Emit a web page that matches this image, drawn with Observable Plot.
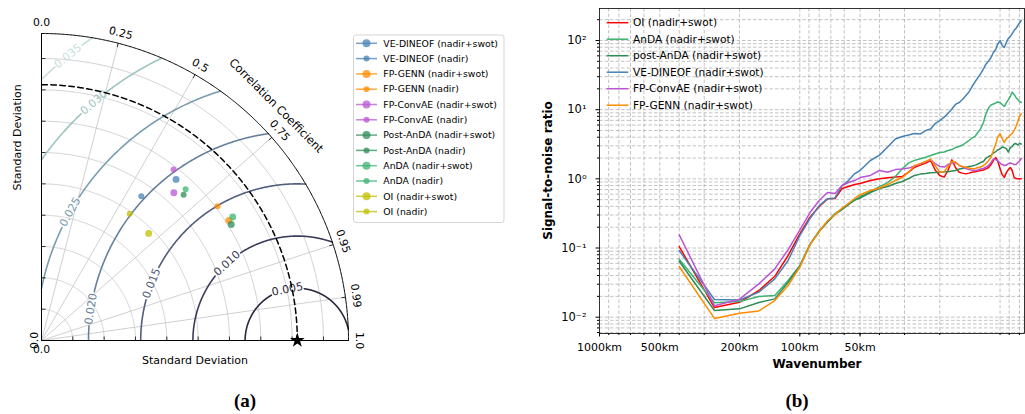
<!DOCTYPE html>
<html>
<head>
<meta charset="utf-8">
<script src="https://cdn.jsdelivr.net/npm/d3@7"></script>
<script src="https://cdn.jsdelivr.net/npm/@observablehq/plot@0.6"></script>
<style>
  html, body { margin: 0; padding: 0; background: #fff; }
  #page { position: relative; width: 1025px; height: 414px; overflow: hidden; font-family: "DejaVu Sans", sans-serif; }
  #page svg { position: absolute; top: 0; }
</style>
</head>
<body>
<div id="page"></div>
<script>
// ---------------- Taylor diagram (a) ----------------
const stdMax = 0.0294;          // outer radius of the diagram
const refStd = 0.0245;          // reference (observed) standard deviation
const stdTicks = [0.003, 0.006, 0.009, 0.012, 0.015, 0.018, 0.021, 0.024, 0.027];
const corrGridValues = [0.25, 0.5, 0.75, 0.95, 0.99];
const corrTickLabels = [0.0, 0.25, 0.5, 0.75, 0.95, 0.99, 1.0];
const rmsLevels = [0.005, 0.010, 0.015, 0.020, 0.025, 0.030, 0.035];

const methods = [
  "VE-DINEOF (nadir+swot)", "VE-DINEOF (nadir)",
  "FP-GENN (nadir+swot)", "FP-GENN (nadir)",
  "FP-ConvAE (nadir+swot)", "FP-ConvAE (nadir)",
  "Post-AnDA (nadir+swot)", "Post-AnDA (nadir)",
  "AnDA (nadir+swot)", "AnDA (nadir)",
  "OI (nadir+swot)", "OI (nadir)"
];
const methodStd  = [0.0201, 0.0168, 0.0213, 0.0212, 0.0190, 0.0207, 0.0213, 0.0195, 0.0218, 0.0200, 0.0145, 0.0148];
const methodCorr = [0.641, 0.569, 0.842, 0.795, 0.667, 0.611, 0.853, 0.698, 0.840, 0.690, 0.708, 0.571];

// ---------------- SNR spectra (b) ----------------
const wavelengthKm = [400, 266.7, 200, 160, 133.3, 114.3, 100, 88.9, 80, 72.7, 66.7, 61.5, 57.1, 53.3, 50,
  44.4, 40, 36.4, 33.3, 30.8, 28.6, 26.7, 25, 23.5, 22.2, 21.1, 20, 19.0, 18.2, 17.4, 16.7, 16, 15.4, 14.8,
  14.3, 13.8, 13.3, 12.9, 12.5, 12.1, 11.8, 11.4, 11.1, 10.8, 10.5, 10.3, 10, 9.76, 9.52, 9.30, 9.09, 8.89,
  8.70, 8.51, 8.33, 8.16, 8, 7.84];
const snrNames = ["OI (nadir+swot)", "AnDA (nadir+swot)", "post-AnDA (nadir+swot)",
  "VE-DINEOF (nadir+swot)", "FP-ConvAE (nadir+swot)", "FP-GENN (nadir+swot)"];
const snrOI = [0.105, 0.0138, 0.0164, 0.0243, 0.039, 0.078, 0.16, 0.279, 0.398, 0.514, 0.52, 0.724, 0.774, 0.827, 0.855,
  0.945, 1.0, 1.04, 1.06, 1.08, 1.25, 1.47, 1.58, 1.69, 1.84, 1.34, 1.12, 1.06, 1.32, 1.88, 1.46, 1.245, 1.21, 1.18,
  1.21, 1.245, 1.27, 1.30, 1.32, 1.34, 1.39, 1.46, 1.61, 1.84, 2.03, 1.84, 1.41, 1.15, 1.05, 1.23, 1.36, 1.46,
  1.32, 1.05, 1.01, 1.0, 1.0, 1.0];
const snrAnDA = [0.069, 0.0162, 0.0168, 0.0199, 0.0206, 0.034, 0.0558, 0.114, 0.176, 0.241, 0.315, 0.372, 0.44, 0.486, 0.555,
  0.655, 0.77, 0.88, 1.08, 1.40, 1.70, 1.85, 1.95, 2.05, 2.17, 2.28, 2.40, 2.44, 2.57, 2.65, 2.83, 2.93, 3.08, 3.35,
  3.58, 3.89, 4.16, 4.67, 5.33, 6.52, 8.5, 10.6, 11.7, 12.1, 12.5, 12.9, 12.7, 11.9, 11.1, 12.5, 14.0, 15.5,
  17.9, 16.6, 15.0, 14.0, 13.1, 12.7];
const snrPostAnDA = [0.0644, 0.0125, 0.0132, 0.0163, 0.0184, 0.032, 0.054, 0.112, 0.173, 0.237, 0.305, 0.36, 0.425, 0.494, 0.528,
  0.634, 0.724, 0.774, 0.855, 0.914, 1.01, 1.12, 1.17, 1.19, 1.22, 1.23, 1.25, 1.27, 1.27, 1.30, 1.32, 1.39, 1.41, 1.46,
  1.51, 1.53, 1.58, 1.64, 1.72, 1.78, 1.97, 2.10, 2.17, 2.36, 2.48, 2.61, 2.70, 2.88, 2.83, 2.74, 2.44, 2.83,
  2.93, 3.18, 3.24, 3.08, 3.24, 3.18];
const snrVEDINEOF = [0.092, 0.018, 0.0177, 0.023, 0.0358, 0.066, 0.151, 0.267, 0.41, 0.514, 0.53, 0.80, 0.945, 1.18, 1.32,
  1.84, 2.2, 2.88, 3.76, 4.09, 4.3, 4.52, 4.45, 4.99, 5.25, 6.3, 6.96, 7.8, 8.8, 10.2, 11.9, 12.7, 14.0, 16.0,
  18.0, 21.6, 25.5, 29.0, 33.2, 38.9, 44.9, 50.5, 56.8, 67, 74.5, 87.6, 99.8, 84.6, 79, 93.8, 107, 114,
  126, 139, 149, 164.5, 179, 194.5];
const snrConvAE = [0.155, 0.0146, 0.0182, 0.0303, 0.05, 0.095, 0.182, 0.326, 0.486, 0.634, 0.613, 0.80, 0.884, 0.945, 1.044,
  1.12, 1.32, 1.245, 1.36, 1.39, 1.43, 1.53, 1.64, 1.78, 1.87, 1.66, 1.51, 1.48, 1.61, 1.69, 1.72, 1.58, 1.48, 1.41,
  1.36, 1.34, 1.32, 1.34, 1.39, 1.41, 1.48, 1.56, 1.72, 1.93, 1.9, 1.84, 1.69, 1.61, 1.56, 1.58, 1.66, 1.69,
  1.66, 1.61, 1.61, 1.72, 1.81, 1.97];
const snrGENN = [0.054, 0.0096, 0.0114, 0.0123, 0.0174, 0.0287, 0.053, 0.112, 0.173, 0.249, 0.305, 0.376, 0.44, 0.52, 0.59,
  0.677, 0.736, 0.827, 0.945, 1.044, 1.25, 1.56, 1.66, 1.78, 1.93, 1.56, 1.25, 1.27, 1.51, 1.78, 1.75, 1.56, 1.51, 1.47,
  1.43, 1.40, 1.41, 1.46, 1.48, 1.56, 1.64, 1.84, 2.05, 2.57, 3.18, 3.95, 4.48, 3.82, 3.35, 3.82, 3.99, 4.3,
  4.52, 4.99, 5.7, 6.7, 7.95, 8.7];
const xLabelKm = [1000, 500, 200, 100, 50];
const gridKm = [900, 800, 700, 600, 500, 400, 300, 200, 100, 90, 80, 70, 60, 50, 40, 30, 20, 10, 9, 8];
const yMajor = [0.01, 0.1, 1, 10, 100];

// ---------------- styling ----------------
const methodColor = {
  "VE-DINEOF": "#4682b4", "FP-GENN": "#ff8c00", "FP-ConvAE": "#ba55d3",
  "Post-AnDA": "#2e8b57", "AnDA": "#3cb371", "OI": "#bfbf00"
};
const snrColors = ["#ff0000", "#3cb371", "#2e8b57", "#4682b4", "#ba55d3", "#ff8c00"];
const rmsColors = ["#28283c", "#3a3c5c", "#525e7e", "#66809b", "#7a9db0", "#9ec4c2", "#c6e0dc"];
const rmsLabelAngle = [101, 132.4, 158.6, 171.3, 150.5, 130.5, 128.9]; // where each contour is labelled (deg, around the reference point)
const gridGrey = "#c4c4c4";

const page = document.getElementById("page");
const font = "DejaVu Sans";

// ---- Taylor geometry helpers ----
const pxR = 307;                      // pixel radius of the quarter disk
const unit = stdMax / pxR;            // data units per pixel
const rad = Math.PI / 180;
const arc = (s) => d3.range(0, 90.25, 0.25).map(a => ({x: s * Math.cos(a * rad), y: s * Math.sin(a * rad), s}));
const onCorr = (s, c) => ({x: s * c, y: s * Math.sqrt(Math.max(0, 1 - c * c))});

const stdGrid = stdTicks.flatMap(s => arc(s));
const corrLines = corrGridValues.map(c => ({c, ...onCorr(stdMax, c)}));

// centred RMS difference contours, clipped to the quarter disk and broken at their labels
const rmsPoints = [];
const rmsLabels = [];
rmsLevels.forEach((r, i) => {
  const c0 = (stdMax ** 2 - refStd ** 2 - r ** 2) / (2 * refStd * r);
  const phi0 = c0 >= 1 ? 0 : Math.acos(Math.max(-1, c0)) / rad;
  const phi1 = r > refStd ? Math.acos(-refStd / r) / rad : 180;
  const phiL = rmsLabelAngle[i];
  const gap = (17 * unit / r) / rad;
  const angles = d3.range(phi0, phi1, 0.25).concat([phi1]);
  for (const p of angles) {
    if (Math.abs(p - phiL) < gap) continue;
    rmsPoints.push({
      x: refStd + r * Math.cos(p * rad), y: r * Math.sin(p * rad),
      seg: i + (p < phiL ? "a" : "b"), color: rmsColors[i]
    });
  }
  rmsLabels.push({
    x: refStd + r * Math.cos(phiL * rad), y: r * Math.sin(phiL * rad),
    text: r.toFixed(3), rotate: 90 - phiL, color: rmsColors[i]
  });
});

const methodRows = methods.map((name, i) => {
  const family = name.split(" (")[0];
  return {name, ...onCorr(methodStd[i], methodCorr[i]), color: methodColor[family], big: name.includes("swot")};
});

const tickLen = 4 * unit;
const corrFmt = c => (c === 0 || c === 1) ? c.toFixed(1) : String(c);
const labelR = stdMax + 10.5 * unit;

const taylor = Plot.plot({
  width: 360, height: 372,
  marginLeft: 41, marginRight: 360 - 41 - pxR, marginTop: 33, marginBottom: 372 - 340,
  x: {domain: [0, stdMax], axis: null},
  y: {domain: [0, stdMax], axis: null},
  color: {type: "identity"},
  style: {fontFamily: font, fontSize: "10px", color: "black", background: "transparent", overflow: "visible"},
  marks: [
    Plot.line(stdGrid, {x: "x", y: "y", z: "s", stroke: gridGrey, strokeWidth: 0.8}),
    Plot.link(corrLines, {x1: 0, y1: 0, x2: "x", y2: "y", stroke: gridGrey, strokeWidth: 0.8}),
    Plot.line(rmsPoints, {x: "x", y: "y", z: "seg", stroke: "color", strokeWidth: 1.6}),
    Plot.text(rmsLabels, {x: "x", y: "y", text: "text", rotate: "rotate", fill: "color", fontSize: 11}),
    Plot.line(arc(refStd), {x: "x", y: "y", stroke: "black", strokeWidth: 1.5, strokeDasharray: "5.5,3.5"}),
    Plot.line(arc(stdMax), {x: "x", y: "y", stroke: "black", strokeWidth: 1}),
    Plot.ruleX([0], {y1: 0, y2: stdMax, stroke: "black", strokeWidth: 1}),
    Plot.ruleY([0], {x1: 0, x2: stdMax, stroke: "black", strokeWidth: 1}),
    Plot.link(stdTicks, {x1: 0, x2: tickLen, y1: d => d, y2: d => d, stroke: "black", strokeWidth: 0.8}),
    Plot.link(stdTicks, {x1: d => d, x2: d => d, y1: 0, y2: tickLen, stroke: "black", strokeWidth: 0.8}),
    Plot.link(corrTickLabels, {
      x1: c => onCorr(stdMax - tickLen, c).x, y1: c => onCorr(stdMax - tickLen, c).y,
      x2: c => onCorr(stdMax, c).x, y2: c => onCorr(stdMax, c).y, stroke: "black", strokeWidth: 0.8
    }),
    Plot.dot(methodRows, {x: "x", y: "y", r: d => d.big ? 4 : 3, fill: "color", fillOpacity: 0.75}),
    Plot.dot([{x: refStd, y: 0}], {x: "x", y: "y", symbol: "star", r: 4.6, fill: "black"}),
    Plot.text(corrTickLabels, {
      x: c => onCorr(labelR, c).x, y: c => onCorr(labelR, c).y, text: corrFmt,
      rotate: c => 90 - Math.acos(c) / rad, fontSize: 10.8
    }),
    Plot.text(["0.0"], {x: 0, y: 0, text: d => d, dy: 9, fontSize: 10.8}),
    Plot.text(["0.0"], {x: 0, y: 0, text: d => d, dx: -7, rotate: -90, fontSize: 10.8}),
    Plot.text(["Correlation Coefficient"], {
      x: () => (stdMax + 25 * unit) * Math.SQRT1_2, y: () => (stdMax + 25 * unit) * Math.SQRT1_2,
      text: d => d, rotate: 45, fontSize: 11.4
    }),
    Plot.text(["Standard Deviation"], {frameAnchor: "bottom", text: d => d, dy: 23, fontSize: 11}),
    Plot.text(["Standard Deviation"], {frameAnchor: "left", text: d => d, dx: -24.5, dy: 3.5, rotate: -90, fontSize: 11})
  ]
});
taylor.style.left = "0px";
page.appendChild(taylor);

// ---- SNR chart ----
const snrValues = [snrOI, snrAnDA, snrPostAnDA, snrVEDINEOF, snrConvAE, snrGENN];
const yGrid = [];
for (let e = -3; e <= 2; e++) for (let m = 1; m <= 9; m++) {
  const v = m * 10 ** e;
  if (v > 0.0058 && v < 290) yGrid.push(+v.toPrecision(3));
}
const yMinor = yGrid.filter(v => !yMajor.includes(v));
const supDigits = {"-": "\u207B", "0": "\u2070", "1": "\u00B9", "2": "\u00B2", "3": "\u00B3"};
const supFmt = v => "10" + String(Math.round(Math.log10(v))).replace(/./g, ch => supDigits[ch]);

const snrPlot = Plot.plot({
  width: 505, height: 380,
  marginLeft: 79, marginRight: 1, marginTop: 8, marginBottom: 47,
  x: {type: "log", domain: [1 / 1000, 1 / 7.55], label: null},
  y: {type: "log", domain: [0.00581, 290], label: null},
  style: {fontFamily: font, fontSize: "11px", color: "black", background: "transparent", overflow: "visible"},
  marks: [
    Plot.ruleX(gridKm, {x: d => 1 / d, stroke: "#b4b4b4", strokeWidth: 0.8, strokeDasharray: "3.5,2"}),
    Plot.ruleY(yGrid, {y: d => d, stroke: "#b4b4b4", strokeWidth: 0.8, strokeDasharray: "3.5,2"}),
    ...snrValues.map((vals, i) => Plot.line(
      wavelengthKm.map((w, j) => ({k: 1 / w, v: vals[j]})),
      {x: "k", y: "v", stroke: snrColors[i], strokeWidth: 1.5}
    )),
    Plot.frame({stroke: "black", strokeWidth: 0.8}),
    Plot.axisY({ticks: yMajor, anchor: "left", tickSize: 3.5, tickPadding: 9.5, tickFormat: supFmt, fontSize: 11.5, label: null}),
    Plot.axisY({ticks: yMinor, anchor: "left", tickSize: 2, tickFormat: () => "", label: null}),
    Plot.axisX({ticks: xLabelKm.map(d => 1 / d), anchor: "bottom", tickSize: 3.5, tickPadding: 6.5,
      tickFormat: k => Math.round(1 / k) + "km", fontSize: 11, label: null}),
    Plot.axisX({ticks: gridKm.map(d => 1 / d), anchor: "bottom", tickSize: 2, tickFormat: () => "", label: null})
  ]
});
snrPlot.style.left = "520px";
page.appendChild(snrPlot);

// ---- legends, axis titles and panel captions ----
const overlay = d3.select(page).append("svg")
  .attr("width", 1025).attr("height", 414)
  .style("left", "0px").style("pointer-events", "none")
  .attr("font-family", font);

// Taylor legend
const lg = overlay.append("g");
lg.append("rect").attr("x", 353.5).attr("y", 35).attr("width", 150.5).attr("height", 187.5)
  .attr("rx", 2.5).attr("fill", "white").attr("stroke", "#d0d0d0").attr("stroke-width", 0.9);
methodRows.forEach((d, i) => {
  const y = 43.3 + 15.3 * i;
  lg.append("line").attr("x1", 356).attr("x2", 377).attr("y1", y).attr("y2", y)
    .attr("stroke", d.color).attr("stroke-opacity", 0.75).attr("stroke-width", 1.5);
  lg.append("circle").attr("cx", 366.5).attr("cy", y).attr("r", d.big ? 4 : 3)
    .attr("fill", d.color).attr("fill-opacity", 0.75);
  lg.append("text").attr("x", 383.3).attr("y", y).attr("dy", "0.35em")
    .attr("font-size", 9.3).text(d.name);
});

// SNR legend
snrNames.forEach((name, i) => {
  const y = 22.7 + 16.5 * i;
  overlay.append("line").attr("x1", 606.7).attr("x2", 628.3).attr("y1", y).attr("y2", y)
    .attr("stroke", snrColors[i]).attr("stroke-width", 1.5);
  overlay.append("text").attr("x", 633).attr("y", y).attr("dy", "0.35em")
    .attr("font-size", 10.6).text(name);
});

overlay.append("text").attr("x", 548).attr("y", 170.5).attr("dy", "0.35em")
  .attr("transform", "rotate(-90 548 170.5)").attr("text-anchor", "middle")
  .attr("font-size", 12).attr("font-weight", "bold").text("Signal-to-noise ratio");
overlay.append("text").attr("x", 817).attr("y", 364).attr("dy", "0.35em")
  .attr("text-anchor", "middle").attr("font-size", 12).attr("font-weight", "bold").text("Wavenumber");

for (const [label, x] of [["(a)", 245], ["(b)", 797]]) {
  overlay.append("text").attr("x", x).attr("y", 400).attr("dy", "0.35em")
    .attr("text-anchor", "middle").attr("font-family", "Liberation Serif, DejaVu Serif, serif")
    .attr("font-size", 19).attr("font-weight", "bold").text(label);
}
</script>
</body>
</html>
